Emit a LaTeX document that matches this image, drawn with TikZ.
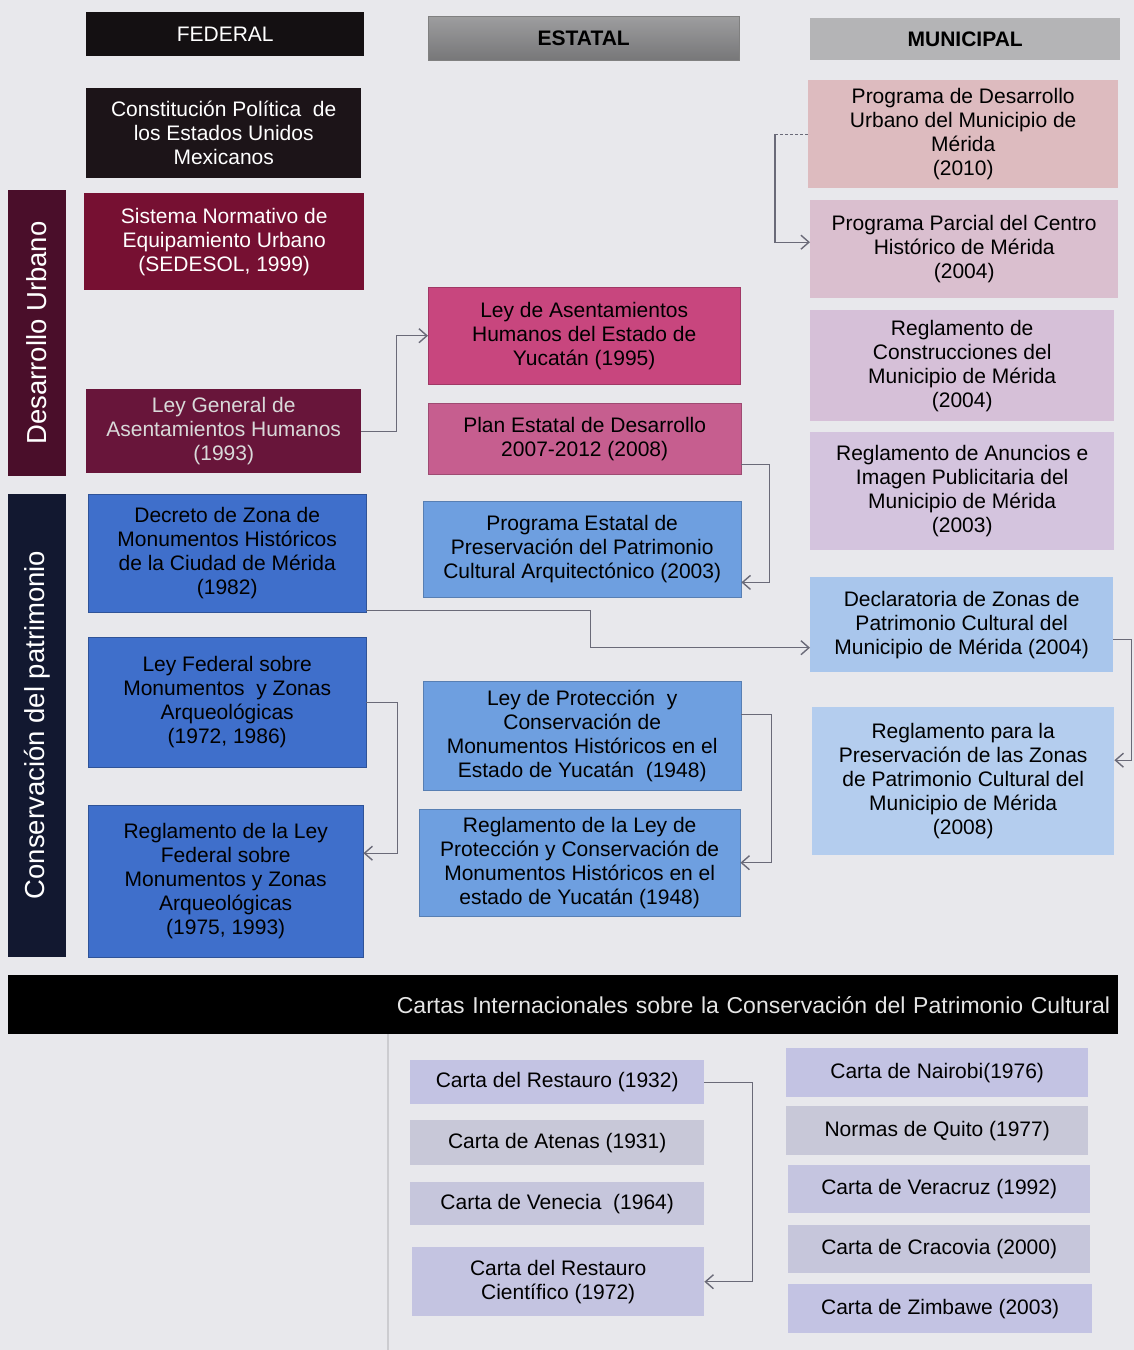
\documentclass[tikz,border=0pt]{standalone}
\usepackage{fontspec}
\setmainfont{Liberation Sans}
\usetikzlibrary{arrows.meta}

\definecolor{pagebg}{HTML}{E8E8EC}
\definecolor{fedhead}{HTML}{141012}
\definecolor{esthead}{HTML}{8C8C8E}
\definecolor{munhead}{HTML}{B4B4B6}
\definecolor{duside}{HTML}{4A0E2A}
\definecolor{cpside}{HTML}{121830}
\definecolor{fedblack}{HTML}{1C1418}
\definecolor{fedred}{HTML}{761032}
\definecolor{fedwine}{HTML}{68153A}
\definecolor{fedblue}{HTML}{3F6FCB}
\definecolor{estpink}{HTML}{C8467E}
\definecolor{estrose}{HTML}{C65E8F}
\definecolor{estblue}{HTML}{6E9FE0}
\definecolor{munrose}{HTML}{DDBBBF}
\definecolor{munmauve}{HTML}{DABFCF}
\definecolor{munlilac}{HTML}{D6C0D8}
\definecolor{munviolet}{HTML}{D4C4DE}
\definecolor{munblue}{HTML}{A9C6EC}
\definecolor{munsky}{HTML}{B4CDEE}
\definecolor{cardlav}{HTML}{C3C3E3}
\definecolor{cardgray}{HTML}{C8C8D8}
\definecolor{linkgray}{HTML}{6A6A78}

\tikzset{
  box/.style={rectangle, anchor=north west, inner sep=2pt, align=center,
    font=\fontsize{21}{24}\selectfont},
  hdr/.style={box, font=\fontsize{21}{24}\selectfont\bfseries},
  side/.style={rectangle, inner sep=0pt, rotate=90, text=white,
    font=\fontsize{27.5}{30}\selectfont, minimum height=58},
  card/.style={box, font=\fontsize{21}{24}\selectfont},
  link/.style={draw=linkgray, line width=1.4pt},
  arr/.style={link, -{Straight Barb[length=8pt,width=14pt]}},
}

\begin{document}
\begin{tikzpicture}[x=1pt, y=-1pt]
\useasboundingbox[fill=pagebg] (0,0) rectangle (1134,1350);

% column heads
\node[box, fill=fedhead, text=white, minimum width=278, minimum height=44] (federal) at (86,12) {FEDERAL};
\node[hdr, top color=esthead!85!white, bottom color=esthead!85!black, draw=gray, minimum width=311, minimum height=44] (estatal) at (428,16) {ESTATAL};
\node[hdr, fill=munhead, minimum width=310, minimum height=42] (municipal) at (810,18) {MUNICIPAL};

% side labels
\node[side, fill=duside, minimum width=286] (desurb) at (37,333) {Desarrollo Urbano};
\node[side, fill=cpside, minimum width=463] (conspat) at (37,725) {Conservación del patrimonio};

% federal
\node[box, fill=fedblack, text=white, minimum width=275, minimum height=90] (cpeum) at (86,88)
  {Constitución Política \ de\\los Estados Unidos\\Mexicanos};
\node[box, fill=fedred, text=white, minimum width=280, minimum height=97] (snieu) at (84,193)
  {Sistema Normativo de\\Equipamiento Urbano\\(SEDESOL, 1999)};
\node[box, fill=fedwine, text=white!85!black, minimum width=275, minimum height=84] (lgah) at (86,389)
  {Ley General de\\Asentamientos Humanos\\(1993)};
\node[box, fill=fedblue, draw=fedblue!75!black, minimum width=278, minimum height=118] (dzmh) at (88,494)
  {Decreto de Zona de\\Monumentos Históricos\\de la Ciudad de Mérida\\(1982)};
\node[box, fill=fedblue, draw=fedblue!75!black, minimum width=278, minimum height=130] (lfmz) at (88,637)
  {Ley Federal sobre\\Monumentos \ y Zonas\\Arqueológicas\\(1972, 1986)};
\node[box, fill=fedblue, draw=fedblue!75!black, minimum width=275, minimum height=152] (rlfm) at (88,805)
  {Reglamento de la Ley\\Federal sobre\\Monumentos y Zonas\\Arqueológicas\\(1975, 1993)};

% estatal
\node[box, fill=estpink, draw=estpink!80!black, minimum width=312, minimum height=97] (lahey) at (428,287)
  {Ley de Asentamientos\\Humanos del Estado de\\Yucatán (1995)};
\node[box, fill=estrose, draw=estrose!80!black, minimum width=313, minimum height=71] (pedes) at (428,403)
  {Plan Estatal de Desarrollo\\2007-2012 (2008)};
\node[box, fill=estblue, draw=estblue!80!black, minimum width=318, minimum height=96] (pepca) at (423,501)
  {Programa Estatal de\\Preservación del Patrimonio\\Cultural Arquitectónico (2003)};
\node[box, fill=estblue, draw=estblue!80!black, minimum width=318, minimum height=109] (lpcmh) at (423,681)
  {Ley de Protección \ y\\Conservación de\\Monumentos Históricos en el\\Estado de Yucatán \ (1948)};
\node[box, fill=estblue, draw=estblue!80!black, minimum width=321, minimum height=107] (rlpc) at (419,809)
  {Reglamento de la Ley de\\Protección y Conservación de\\Monumentos Históricos en el\\estado de Yucatán (1948)};

% municipal
\node[box, fill=munrose, minimum width=310, minimum height=108] (pdum) at (808,80)
  {Programa de Desarrollo\\Urbano del Municipio de\\Mérida\\(2010)};
\node[box, fill=munmauve, minimum width=308, minimum height=98] (ppch) at (810,200)
  {Programa Parcial del Centro\\Histórico de Mérida\\(2004)};
\node[box, fill=munlilac, minimum width=304, minimum height=111] (rcmm) at (810,310)
  {Reglamento de\\Construcciones del\\Municipio de Mérida\\(2004)};
\node[box, fill=munviolet, minimum width=304, minimum height=118] (raip) at (810,432)
  {Reglamento de Anuncios e\\Imagen Publicitaria del\\Municipio de Mérida\\(2003)};
\node[box, fill=munblue, minimum width=303, minimum height=95] (dzpc) at (810,577)
  {Declaratoria de Zonas de\\Patrimonio Cultural del\\Municipio de Mérida (2004)};
\node[box, fill=munsky, minimum width=302, minimum height=148] (rpzp) at (812,707)
  {Reglamento para la\\Preservación de las Zonas\\de Patrimonio Cultural del\\Municipio de Mérida\\(2008)};

% cartas internacionales
\node[box, fill=black, text=white!90!black, font=\fontsize{23}{26}\selectfont, inner xsep=8pt, text width=1094, align=right, minimum height=59] (cartas) at (8,975)
  {Cartas Internacionales sobre la Conservación del Patrimonio Cultural};
\draw[pagebg!88!black, line width=1.5pt] (388,1034) -- (388,1350);

\node[card, fill=cardlav, minimum width=294, minimum height=44] (restauro) at (410,1060) {Carta del Restauro (1932)};
\node[card, fill=cardgray, minimum width=294, minimum height=45] (atenas) at (410,1120) {Carta de Atenas (1931)};
\node[card, fill=cardgray!60!cardlav, minimum width=294, minimum height=43] (venecia) at (410,1182) {Carta de Venecia \ (1964)};
\node[card, fill=cardlav!80!cardgray, minimum width=292, minimum height=69] (restcien) at (412,1247) {Carta del Restauro\\Científico (1972)};
\node[card, fill=cardlav, minimum width=302, minimum height=49] (nairobi) at (786,1048) {Carta de Nairobi(1976)};
\node[card, fill=cardgray, minimum width=302, minimum height=49] (quito) at (786,1106) {Normas de Quito (1977)};
\node[card, fill=cardlav!70!cardgray, minimum width=302, minimum height=48] (veracruz) at (788,1165) {Carta de Veracruz (1992)};
\node[card, fill=cardgray!70!cardlav, minimum width=302, minimum height=48] (cracovia) at (788,1225) {Carta de Cracovia (2000)};
\node[card, fill=cardlav, minimum width=304, minimum height=49] (zimbawe) at (788,1284) {Carta de Zimbawe (2003)};

% connectors
\draw[link, densely dashed] (pdum.west) -- ++(-33,0) coordinate (pdubend);
\draw[arr] (pdubend) |- ([yshift=7pt]ppch.west);
\draw[arr] (lgah.east) -- ++(35,0) |- (lahey.west);
\draw[arr] ([yshift=10pt]pedes.south east) -- ++(28,0) |- ([yshift=15pt]pepca.south east);
\draw[arr] ([yshift=2pt]dzmh.south east) -- ++(224,0) |- ([yshift=-23pt]dzpc.west);
\draw[arr] ([yshift=-15pt]dzpc.east) -- ++(18,0) |- ([yshift=21pt]rpzp.east);
\draw[arr] (lfmz.east) -- ++(31,0) |- ([yshift=28pt]rlfm.east);
\draw[arr] ([yshift=21pt]lpcmh.east) -- ++(30,0) |- (rlpc.east);
\draw[arr] (restauro.east) -- ++(48,0) |- (restcien.east);
\end{tikzpicture}
\end{document}
